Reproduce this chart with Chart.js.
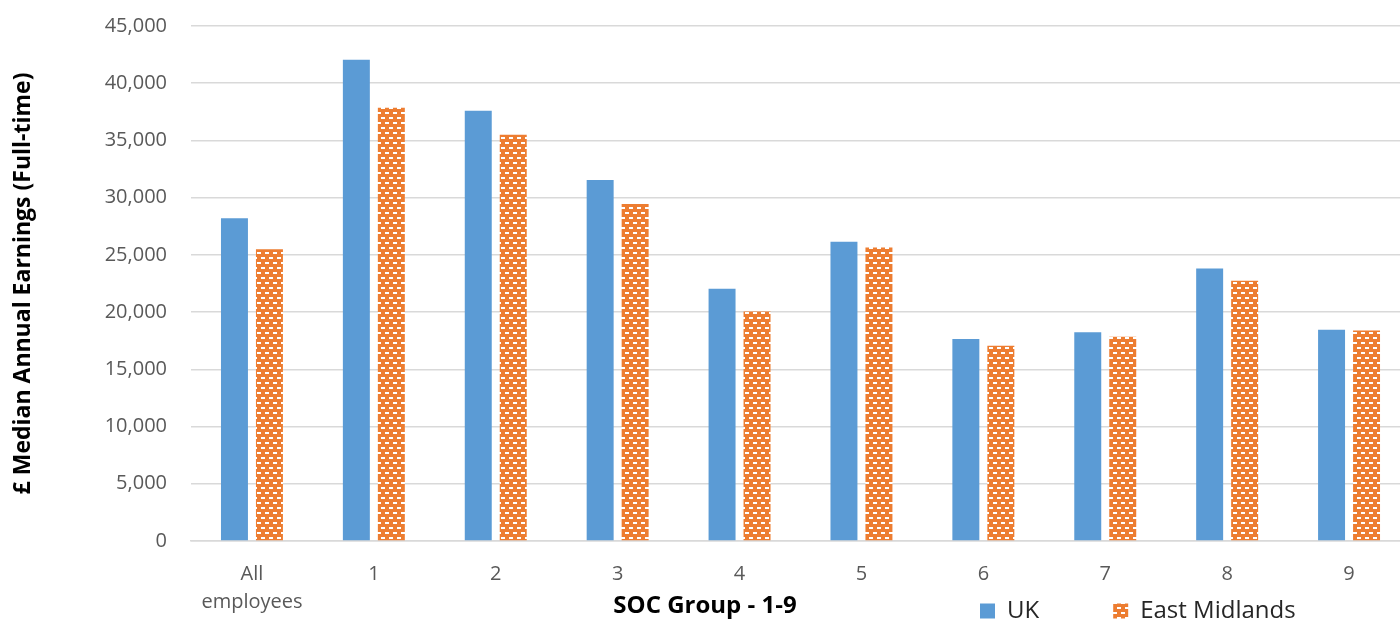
<!DOCTYPE html>
<html>
<head>
<meta charset="utf-8">
<title>Median annual earnings by SOC group</title>
<script src="https://cdn.jsdelivr.net/npm/chart.js@4/dist/chart.umd.min.js"></script>
<style>
	html, body { margin: 0; padding: 0; background: #fff; overflow: hidden; }
	#wrap { width: 1412px; height: 621px; position: relative; }
</style>
</head>
<body>
<div id="wrap"><canvas id="chart"></canvas></div>
<script>
'use strict'

// data
const categories = [['All', 'employees'], '1', '2', '3', '4', '5', '6', '7', '8', '9'];
const ukValues = [28200, 42050, 37600, 31550, 22050, 26150, 17650, 18250, 23800, 18450];
const eastMidlandsValues = [25500, 37850, 35500, 29450, 20050, 25650, 17050, 17850, 22750, 18400];
const yMax = 45000;
const yStep = 5000;

const blue = '#5b9bd5';
const orange = '#ed7d31';
const tickGrey = '#595959';
const gridGrey = '#d9d9d9';

// where the legend row sits (same line as the axis title)
const legendLeft = 980;
const legendMid = 611;

let brickPattern = () => {
	let c = document.createElement('canvas');
	c.width = 8;
	c.height = 10;
	let g = c.getContext('2d');
	g.fillStyle = orange;
	g.fillRect(0, 0, 8, 10);
	g.fillStyle = '#ffffff';
	g.fillRect(1, 2, 4, 2);
	g.fillRect(5, 7, 3, 2);
	g.fillRect(0, 7, 1, 2);
	return g.createPattern(c, 'repeat');
};

// legend shares the row of the x axis title, so move it there before drawing
const legendSpot = {
	id: 'legendSpot',
	beforeDraw: (chart) => {
		let lg = chart.legend;
		let pad = lg.options.labels.padding;
		lg.left = legendLeft - pad;
		lg.top = legendMid - pad - lg.options.labels.font.size / 2;
		lg.right = chart.width;
		lg.bottom = chart.height;
	}
};

let ctx = document.getElementById('chart').getContext('2d');
let chart = new Chart(ctx, {
	type: 'bar',
	data: {
		labels: categories,
		datasets: [{
				label: 'UK',
				backgroundColor: blue,
				data: ukValues
			},
			{
				label: 'East Midlands',
				backgroundColor: brickPattern(),
				data: eastMidlandsValues
			}
		]
	},
	plugins: [legendSpot],
	options: {
		responsive: true,
		maintainAspectRatio: false,
		animation: false,
		locale: 'en-GB',
		layout: {
			padding: { top: 26, right: 2, left: 0, bottom: 0 }
		},
		datasets: {
			bar: {
				categoryPercentage: 0.574,
				barPercentage: 0.771
			}
		},
		scales: {
			x: {
				grid: { display: false },
				border: { color: gridGrey, width: 1.5 },
				ticks: {
					color: tickGrey,
					padding: 11,
					font: { family: 'Open Sans', size: 20, lineHeight: 1.4 }
				},
				afterFit: (scale) => { scale.height = 76; }
			},
			y: {
				min: 0,
				max: yMax,
				grid: { color: gridGrey, lineWidth: 1.5, drawTicks: false },
				border: { display: false },
				ticks: {
					stepSize: yStep,
					color: tickGrey,
					padding: 24,
					font: { family: 'Open Sans', size: 20 }
				},
				title: {
					display: true,
					text: '£ Median Annual Earnings (Full-time)',
					color: '#000000',
					padding: { top: 10, bottom: 0 },
					font: { family: 'Open Sans', size: 23, weight: 'bold' }
				},
				afterFit: (scale) => {
					scale.width = 191;
					scale.paddingTop = 12;
					scale.paddingBottom = 12;
				}
			}
		},
		plugins: {
			title: {
				display: true,
				position: 'bottom',
				text: 'SOC Group - 1-9',
				color: '#000000',
				padding: { top: -27, bottom: 0 },
				font: { family: 'Open Sans', size: 24, weight: 'bold', lineHeight: 1.25 }
			},
			legend: {
				position: 'bottom',
				align: 'start',
				maxHeight: 1,
				labels: {
					boxWidth: 15,
					boxHeight: 15,
					padding: 74,
					color: '#262626',
					font: { family: 'Open Sans', size: 24 }
				}
			},
			tooltip: { enabled: false }
		}
	}
});
</script>
</body>
</html>
